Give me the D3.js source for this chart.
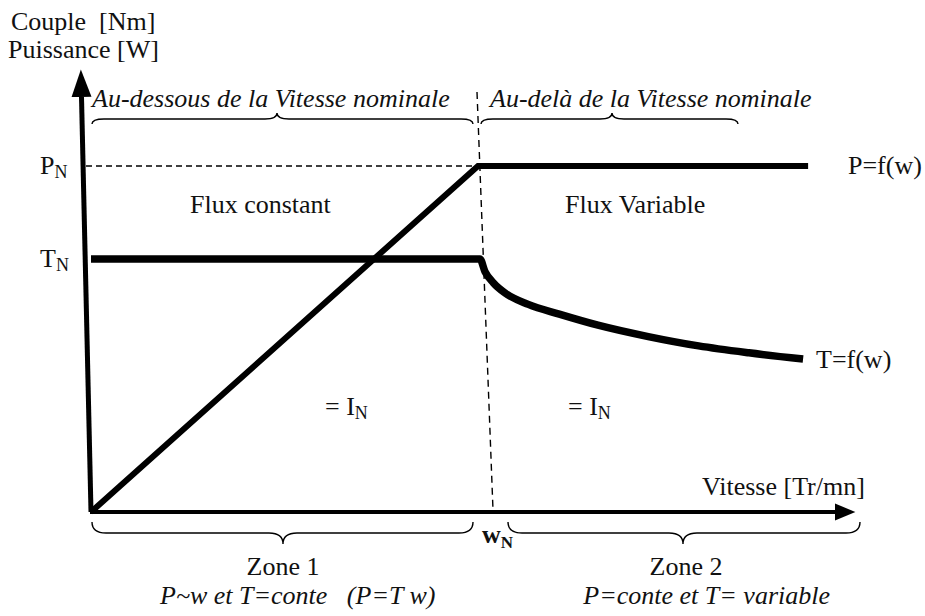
<!DOCTYPE html>
<html lang="fr">
<head>
<meta charset="utf-8">
<title>Couple et puissance en fonction de la vitesse</title>
<script src="https://d3js.org/d3.v7.min.js"></script>
<style>
  body { margin: 0; background: #fff; }
  svg { display: block; font-family: "Liberation Serif", "Times New Roman", serif; }
  .lbl { font-size: 26px; fill: #111; }
  .it { font-style: italic; }
</style>
</head>
<body>
<div id="chart"></div>
<script>
// vitesse relative w/wN, grandeurs relatives a PN
var speedP = [0, 1, 1.853];
var power = [0, 1, 1];
var speedT = [0, 1.005, 1.018, 1.04, 1.07, 1.13, 1.21, 1.31, 1.44, 1.57, 1.70, 1.84];
var torque = [0.731, 0.731, 0.695, 0.662, 0.633, 0.600, 0.572, 0.540, 0.507, 0.480, 0.460, 0.442];
var levelNames = ["P", "T"];
var levelValues = [1, 0.731];
var curveNames = ["P=f(w)", "T=f(w)"];

var w = 925, h = 616;

var x = d3.scaleLinear().domain([0, 1]).range([91, 478]);
var y = d3.scaleLinear().domain([0, 1]).range([512, 166]);

var svg = d3.select("#chart").append("svg")
  .attr("width", w)
  .attr("height", h);

var defs = svg.append("defs");
defs.append("marker")
  .attr("id", "arrY")
  .attr("markerUnits", "userSpaceOnUse")
  .attr("markerWidth", 30).attr("markerHeight", 30)
  .attr("viewBox", "0 -10 24 20")
  .attr("refX", 0).attr("refY", 0)
  .attr("orient", "auto")
  .append("path").attr("d", "M0,-8L22,0L0,8Z").attr("fill", "#000");
defs.append("marker")
  .attr("id", "arrX")
  .attr("markerUnits", "userSpaceOnUse")
  .attr("markerWidth", 24).attr("markerHeight", 24)
  .attr("viewBox", "0 -10 20 20")
  .attr("refX", 0).attr("refY", 0)
  .attr("orient", "auto")
  .append("path").attr("d", "M0,-7L17,0L0,7Z").attr("fill", "#000");

// dashed guides
svg.append("line")
  .attr("x1", 86).attr("y1", y(1))
  .attr("x2", x(1)).attr("y2", y(1))
  .attr("stroke", "#000").attr("stroke-width", 1.3)
  .attr("stroke-dasharray", "6,4");
svg.append("line")
  .attr("x1", x(1) - 1).attr("y1", 92)
  .attr("x2", x(1) + 15).attr("y2", y(0) - 2)
  .attr("stroke", "#000").attr("stroke-width", 1.4)
  .attr("stroke-dasharray", "7,5");

// axes
svg.append("line")
  .attr("x1", x(0)).attr("y1", y(0))
  .attr("x2", x(0) - 9.5).attr("y2", 97)
  .attr("stroke", "#000").attr("stroke-width", 5)
  .attr("marker-end", "url(#arrY)");
svg.append("line")
  .attr("x1", x(0) - 1).attr("y1", y(0))
  .attr("x2", 835).attr("y2", y(0))
  .attr("stroke", "#000").attr("stroke-width", 4)
  .attr("marker-end", "url(#arrX)");

// curves
var lineP = d3.line()
  .x(function(d, i) { return x(speedP[i]); })
  .y(function(d) { return y(d); });
svg.append("path")
  .datum(power)
  .attr("d", lineP)
  .attr("fill", "none")
  .attr("stroke", "#000")
  .attr("stroke-width", 6)
  .attr("stroke-linejoin", "miter");

var lineT = d3.line()
  .curve(d3.curveMonotoneX)
  .x(function(d, i) { return x(speedT[i]); })
  .y(function(d) { return y(d); });
svg.append("path")
  .datum(torque)
  .attr("d", lineT)
  .attr("fill", "none")
  .attr("stroke", "#000")
  .attr("stroke-width", 7.5);

// curly braces
function brace(x1, x2, xm, yEnd, yBar, yTip, r) {
  var p = d3.path();
  p.moveTo(x1, yEnd);
  p.quadraticCurveTo(x1, yBar, x1 + r, yBar);
  p.lineTo(xm - r, yBar);
  p.quadraticCurveTo(xm, yBar, xm, yTip);
  p.quadraticCurveTo(xm, yBar, xm + r, yBar);
  p.lineTo(x2 - r, yBar);
  p.quadraticCurveTo(x2, yBar, x2, yEnd);
  svg.append("path")
    .attr("d", p.toString())
    .attr("fill", "none")
    .attr("stroke", "#000")
    .attr("stroke-width", 1.4);
}
brace(92, 473, 277, 124, 119, 113, 12);
brace(481, 738, 612, 124, 119, 113, 12);
brace(92, 473, 283, 522, 533, 544, 14);
brace(508, 860, 683, 522, 533, 544, 14);

// texts
function txt(s, tx, ty, cls, anchor) {
  return svg.append("text")
    .attr("class", "lbl " + (cls || ""))
    .attr("x", tx).attr("y", ty)
    .attr("text-anchor", anchor || "start")
    .text(s);
}
txt("Couple\u00a0\u00a0[Nm]", 11, 30);
txt("Puissance [W]", 8, 58);

txt("Au-dessous de la Vitesse nominale", 92, 107, "it");
txt("Au-delà de la Vitesse nominale", 490, 107, "it");

levelNames.forEach(function(n, i) {
  var t = svg.append("text").attr("class", "lbl")
    .attr("x", 40).attr("y", y(levelValues[i]) + 8);
  t.append("tspan").text(n);
  t.append("tspan").attr("dy", 4).style("font-size", "18px").text("N");
});

txt("Flux constant", 190, 213);
txt("Flux Variable", 565, 213);

txt(curveNames[0], 848, y(power[2]) + 8);
txt(curveNames[1], 816, y(torque[torque.length - 1]) + 9);

[325, 568].forEach(function(cx) {
  var t = svg.append("text").attr("class", "lbl")
    .attr("x", cx).attr("y", 415);
  t.append("tspan").text("= I");
  t.append("tspan").attr("dy", 4).style("font-size", "18px").text("N");
});

txt("Vitesse [Tr/mn]", 702, 495);

var wn = svg.append("text").attr("class", "lbl")
  .attr("x", 482).attr("y", 543)
  .style("font-weight", "bold");
wn.append("tspan").text("w");
wn.append("tspan").attr("dy", 5).style("font-size", "17px").text("N");

txt("Zone 1", 283, 575, "", "middle");
svg.append("text").attr("class", "lbl it")
  .attr("x", 160).attr("y", 604)
  .attr("xml:space", "preserve")
  .style("white-space", "pre")
  .text("P~w et T=conte   (P=T w)");
txt("Zone 2", 686, 575, "", "middle");
txt("P=conte et T= variable", 830, 604, "it", "end");
</script>
</body>
</html>
